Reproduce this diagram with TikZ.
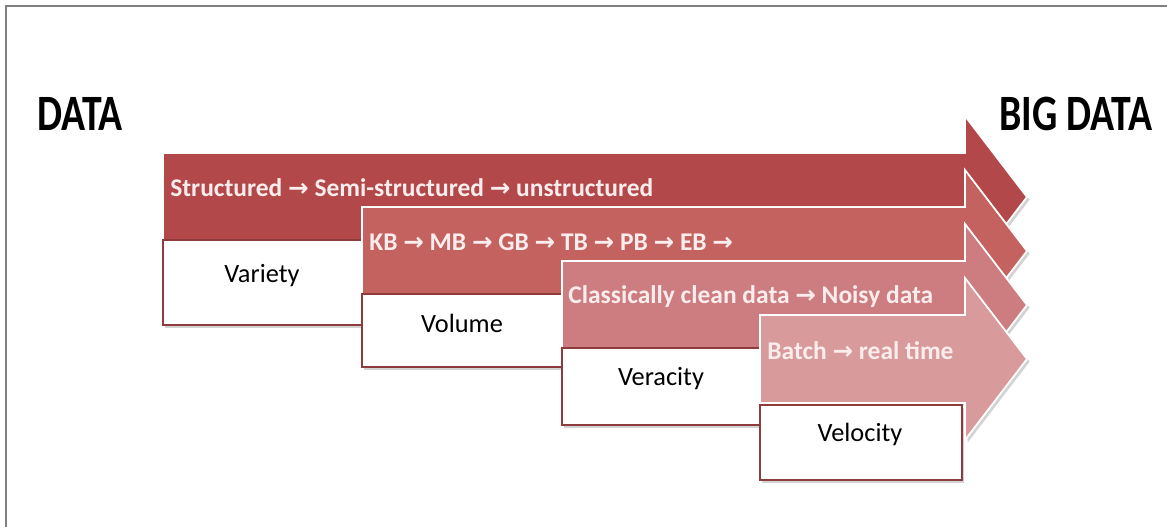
\documentclass[tikz,border=0pt]{standalone}
\usepackage{fontspec}
\setmainfont{Carlito}
\newfontfamily\symfont{DejaVu Sans}
\usepackage{tikz}
\usetikzlibrary{shadows}

\definecolor{vone}{HTML}{B3484A}
\definecolor{vtwo}{HTML}{C4625F}
\definecolor{vthree}{HTML}{CD7D7F}
\definecolor{vfour}{HTML}{D89A9B}
\definecolor{vedge}{HTML}{8E3B3E}
\definecolor{vtext}{HTML}{FBEDED}

\newcommand{\toarr}{\ {\symfont\fontsize{14}{14}\selectfont →}\ }

\begin{document}
\begin{tikzpicture}[x=0.02cm,
            y=-0.02cm,
            vband/.style={draw=white, line width=1pt,
                drop shadow={shadow xshift=1.5pt, shadow yshift=-1.5pt,
                    opacity=0.35, fill=gray}},
            vlabel/.style={anchor=west, text=vtext,
                font=\fontsize{14.5}{16}\selectfont\bfseries, inner sep=0pt},
            vbox/.style={draw=vedge, line width=1.4pt, fill=white,
                drop shadow={shadow xshift=1pt, shadow yshift=-1.5pt,
                    opacity=0.35, fill=gray}},
            vname/.style={anchor=north, font=\fontsize{15}{16}\selectfont,
                inner sep=0pt},
            vtitle/.style={font=\fontsize{29}{30}\selectfont\bfseries,
                xscale=0.78, transform shape}]

        \useasboundingbox (0,0) rectangle (1167,527);
        \draw[gray, line width=1.2pt] (6,527) -- (6,6) -- (1167,6);

        % titles
        \node[vtitle] (data)    at (80,114)   {DATA};
        \node[vtitle] (bigdata) at (1076,114) {BIG DATA};

        % variety
        \path[vband, fill=vone] (163,153) -- (965,153) -- (965,116)
            -- (1027,197) -- (965,278) -- (965,241) -- (163,241) -- cycle;
        \node[vlabel] (variety text) at (170,188)
            {Structured\toarr Semi-structured\toarr unstructured};
        \path[vbox] (163,240) rectangle (364,325);
        \node[vname] (variety) at (262,264) {Variety};

        % volume
        \path[vband, fill=vtwo] (362,207) -- (965,207) -- (965,170)
            -- (1027,251) -- (965,332) -- (965,295) -- (362,295) -- cycle;
        \node[vlabel] (volume text) at (369,242)
            {KB\toarr MB\toarr GB\toarr TB\toarr PB\toarr EB\toarr};
        \path[vbox] (362,294) rectangle (564,367);
        \node[vname] (volume) at (462,314) {Volume};

        % veracity
        \path[vband, fill=vthree] (562,261) -- (965,261) -- (965,224)
            -- (1027,305) -- (965,386) -- (965,349) -- (562,349) -- cycle;
        \node[vlabel] (veracity text) at (568,297)
            {Classically clean data\toarr Noisy data};
        \path[vbox] (562,348) rectangle (762,425);
        \node[vname] (veracity) at (661,367) {Veracity};

        % velocity
        \path[vband, fill=vfour] (760,315) -- (965,315) -- (965,278)
            -- (1027,359) -- (965,440) -- (965,403) -- (760,403) -- cycle;
        \node[vlabel] (velocity text) at (767,351)
            {Batch\toarr real time};
        \path[vbox] (760,405) rectangle (962,480);
        \node[vname] (velocity) at (860,423) {Velocity};

    \end{tikzpicture}
\end{document}
